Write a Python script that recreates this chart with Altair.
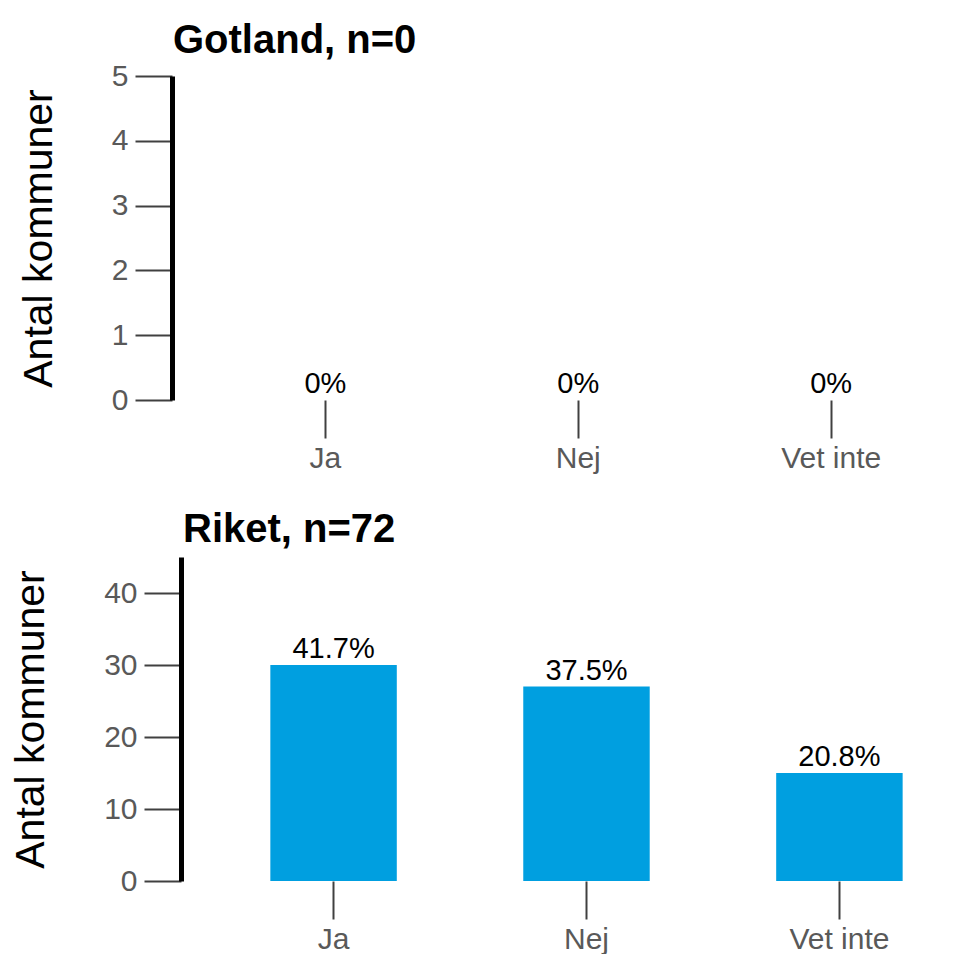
import altair as alt
import pandas as pd

# ---- data ----
categories = ["Ja", "Nej", "Vet inte"]
gotland_counts = [0, 0, 0]
riket_counts = [30, 27, 15]
gotland_n = 0
riket_n = 72
gotland_ticks = [0, 1, 2, 3, 4, 5]
riket_ticks = [0, 10, 20, 30, 40]

FONT = "Liberation Sans"
BAR = "#009fe0"


def make_df(counts, n):
    labels = [f"{c / n * 100:.1f}%" if n else "0%" for c in counts]
    return pd.DataFrame({"svar": categories, "antal": counts, "etikett": labels})


def panel(df, title, ymax, yticks, align, title_offset, axis_offset, title_dx):
    x = alt.X(
        "svar:N",
        sort=categories,
        title=None,
        scale=alt.Scale(paddingInner=0.5, paddingOuter=0.29, align=align),
        axis=alt.Axis(
            domain=False,
            tickSize=38,
            tickWidth=2,
            tickColor="#404040",
            labelFontSize=30,
            labelFont=FONT,
            labelColor="#595959",
            labelPadding=5,
            labelAngle=0,
        ),
    )
    y = alt.Y(
        "antal:Q",
        title="Antal kommuner",
        scale=alt.Scale(domain=[0, ymax], nice=False),
        axis=alt.Axis(
            values=yticks,
            grid=False,
            domainColor="black",
            domainWidth=5,
            tickSize=37,
            tickWidth=2,
            tickColor="#404040",
            labelFontSize=30,
            labelFont=FONT,
            labelColor="#595959",
            labelPadding=7,
            titleFontSize=41,
            titleFont=FONT,
            titleFontWeight="normal",
            titleColor="black",
            titlePadding=51,
            offset=axis_offset,
        ),
    )
    base = alt.Chart(df).encode(x=x, y=y)
    bars = base.mark_bar(color=BAR)
    text = base.mark_text(
        baseline="bottom", dy=-1, fontSize=29, font=FONT, color="black"
    ).encode(text="etikett:N")
    return alt.layer(bars, text).properties(
        width=779,
        height=324,
        title=alt.TitleParams(
            title,
            anchor="start",
            frame="group",
            fontSize=40,
            fontWeight="bold",
            font=FONT,
            color="black",
            offset=title_offset,
            dx=title_dx,
        ),
    )


top = panel(make_df(gotland_counts, gotland_n), f"Gotland, n={gotland_n}",
            5, gotland_ticks, 0.553, 0, 9, -8)
bottom = panel(make_df(riket_counts, riket_n), f"Riket, n={riket_n}",
               45, riket_ticks, 0.609, 7, 0, 2)

chart = (
    alt.vconcat(top, bottom, spacing=37)
    .properties(padding={"left": 2, "top": 13, "right": 0, "bottom": 0})
    .configure(font=FONT)
    .configure_view(stroke=None, strokeWidth=0)
)

chart.save("out.html", embed_options={"renderer": "svg", "actions": False})
